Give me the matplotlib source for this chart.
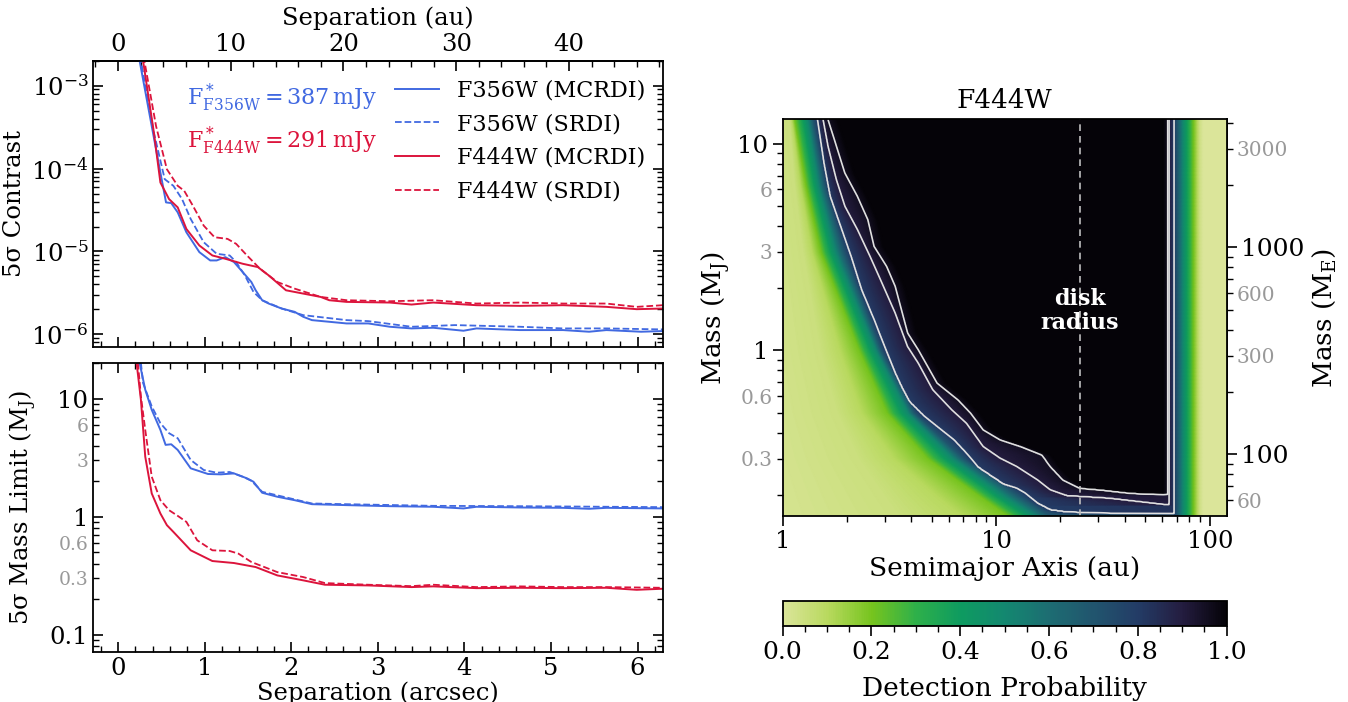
import numpy as np
import matplotlib
matplotlib.use("Agg")
import matplotlib.pyplot as plt
from matplotlib.colors import LinearSegmentedColormap
from matplotlib.ticker import FixedLocator, FuncFormatter, MultipleLocator

plt.rcParams['font.family'] = 'DejaVu Serif'
plt.rcParams['mathtext.fontset'] = 'dejavuserif'
plt.rcParams['axes.linewidth'] = 1.3

BLUE = '#4169e1'
RED = '#dc143c'
GREY = '#999999'
AU_PER_ARCSEC = 7.68
MJ_TO_ME = 317.8

# ---------------- contrast curves (arcsec, log10 contrast) ----------------
sep_356_mc = [0.20, 0.25, 0.39, 0.49, 0.555, 0.615, 0.69, 0.79, 0.94, 1.065, 1.14, 1.24, 1.34, 1.44,
              1.54, 1.59, 1.665, 1.74, 1.89, 2.04, 2.14, 2.24, 2.44, 2.64, 2.89, 3.14, 3.39, 3.64,
              3.99, 4.14, 4.64, 5.14, 5.44, 5.64, 6.04, 6.29]
con_356_mc = [-2.3, -2.70, -3.488, -4.048, -4.408, -4.416, -4.528, -4.768, -5.008, -5.108, -5.108,
              -5.068, -5.128, -5.248, -5.368, -5.468, -5.588, -5.628, -5.688, -5.728, -5.788, -5.828,
              -5.848, -5.868, -5.868, -5.908, -5.928, -5.92, -5.956, -5.928, -5.948, -5.948, -5.968,
              -5.948, -5.968, -5.96]

sep_356_sr = [0.22, 0.265, 0.415, 0.54, 0.64, 0.74, 0.84, 0.99, 1.14, 1.29, 1.365, 1.465, 1.565,
              1.665, 1.89, 2.14, 2.64, 2.89, 3.39, 3.89, 4.64, 5.14, 5.64, 6.29]
con_356_sr = [-2.3, -2.70, -3.568, -4.128, -4.208, -4.368, -4.608, -4.888, -5.028, -5.048, -5.128,
              -5.288, -5.488, -5.588, -5.688, -5.768, -5.828, -5.84, -5.908, -5.888, -5.908, -5.928,
              -5.928, -5.94]

sep_444_mc = [0.25, 0.29, 0.415, 0.49, 0.59, 0.69, 0.79, 0.94, 1.09, 1.24, 1.44, 1.615, 1.74, 1.94,
              2.14, 2.34, 2.44, 2.64, 3.14, 3.39, 3.64, 4.14, 4.64, 5.14, 5.64, 5.99, 6.29]
con_444_mc = [-2.3, -2.70, -3.568, -4.168, -4.368, -4.468, -4.728, -4.928, -5.048, -5.088, -5.148,
              -5.188, -5.288, -5.468, -5.508, -5.548, -5.588, -5.608, -5.616, -5.64, -5.616, -5.648,
              -5.656, -5.648, -5.668, -5.696, -5.688]

sep_444_sr = [0.27, 0.305, 0.44, 0.565, 0.69, 0.765, 0.865, 0.99, 1.115, 1.265, 1.365, 1.49, 1.64,
              1.84, 2.04, 2.34, 2.64, 3.14, 3.64, 4.14, 4.64, 5.14, 5.64, 5.99, 6.29]
con_444_sr = [-2.3, -2.70, -3.488, -4.008, -4.208, -4.268, -4.448, -4.688, -4.828, -4.848, -4.908,
              -5.048, -5.208, -5.368, -5.448, -5.548, -5.588, -5.60, -5.588, -5.628, -5.616, -5.628,
              -5.628, -5.668, -5.648]

# ---------------- mass limit curves (arcsec, log10 MJ) ----------------
msep_356_mc = [0.25, 0.315, 0.39, 0.49, 0.55, 0.615, 0.69, 0.84, 1.04, 1.19, 1.34, 1.49, 1.565, 1.665,
               1.84, 2.04, 2.24, 2.64, 3.14, 3.64, 3.99, 4.14, 4.64, 5.14, 5.44, 5.64, 6.29]
mass_356_mc = [1.304, 1.077, 0.906, 0.736, 0.609, 0.614, 0.566, 0.410, 0.362, 0.359, 0.367, 0.325,
               0.296, 0.203, 0.169, 0.140, 0.106, 0.098, 0.089, 0.084, 0.070, 0.084, 0.078, 0.075,
               0.067, 0.075, 0.070]

msep_356_sr = [0.265, 0.29, 0.39, 0.49, 0.59, 0.69, 0.84, 0.99, 1.14, 1.29, 1.44, 1.54, 1.665, 2.24,
               2.64, 3.64, 4.64, 6.29]
mass_356_sr = [1.304, 1.133, 0.935, 0.793, 0.708, 0.665, 0.481, 0.396, 0.373, 0.379, 0.339, 0.305,
               0.211, 0.112, 0.106, 0.092, 0.089, 0.081]

msep_444_mc = [0.215, 0.265, 0.315, 0.39, 0.49, 0.565, 0.64, 0.84, 1.09, 1.34, 1.59, 1.84, 2.14, 2.39,
               2.89, 3.39, 3.64, 4.14, 4.64, 5.14, 5.64, 5.99, 6.29]
mass_444_mc = [1.304, 0.991, 0.509, 0.197, 0.027, -0.072, -0.129, -0.285, -0.376, -0.393, -0.427,
               -0.498, -0.540, -0.577, -0.583, -0.597, -0.591, -0.606, -0.603, -0.606, -0.603,
               -0.620, -0.611]

msep_444_sr = [0.23, 0.265, 0.315, 0.39, 0.49, 0.59, 0.69, 0.79, 0.915, 1.09, 1.29, 1.39, 1.54, 1.84,
               2.14, 2.39, 2.89, 3.39, 3.64, 4.14, 4.64, 5.14, 5.64, 6.29]
mass_444_sr = [1.304, 1.020, 0.736, 0.339, 0.140, 0.055, 0.007, -0.044, -0.200, -0.285, -0.291,
               -0.313, -0.384, -0.470, -0.512, -0.563, -0.577, -0.589, -0.577, -0.597, -0.591,
               -0.597, -0.597, -0.603]

# ---------------- F444W detection map (log10 au, log10 MJ) ----------------
# white contours (probability 0.8, 0.9, 0.95)
c80_loga = [0.163, 0.193, 0.222, 0.271, 0.320, 0.369, 0.428, 0.477, 0.527, 0.585, 0.664, 0.743, 0.802,
            0.861, 0.939, 1.018, 1.096, 1.136, 1.194, 1.253, 1.332, 1.528, 1.804]
c80_logm = [1.116, 0.906, 0.745, 0.600, 0.455, 0.294, 0.148, 0.019, -0.110, -0.239, -0.319, -0.384,
            -0.432, -0.497, -0.594, -0.642, -0.666, -0.690, -0.739, -0.771, -0.782, -0.787, -0.790]
c90_loga = [0.189, 0.212, 0.251, 0.291, 0.350, 0.409, 0.458, 0.527, 0.585, 0.635, 0.703, 0.792, 0.861,
            0.939, 1.018, 1.096, 1.194, 1.253, 1.332, 1.528, 1.804]
c90_logm = [1.116, 0.987, 0.826, 0.697, 0.584, 0.455, 0.342, 0.181, 0.019, -0.061, -0.190, -0.287,
            -0.352, -0.465, -0.521, -0.561, -0.626, -0.674, -0.703, -0.715, -0.747]
c95_loga = [0.212, 0.242, 0.291, 0.350, 0.399, 0.428, 0.487, 0.527, 0.585, 0.635, 0.723, 0.821, 0.880,
            0.939, 1.018, 1.116, 1.214, 1.253, 1.312, 1.391, 1.489, 1.627, 1.804]
c95_logm = [1.116, 1.019, 0.858, 0.745, 0.632, 0.503, 0.406, 0.310, 0.084, 0.003, -0.158, -0.239,
            -0.303, -0.384, -0.432, -0.465, -0.505, -0.561, -0.626, -0.666, -0.674, -0.690, -0.698]
# lower probability levels
lvl_logm = [1.116, 0.8, 0.477, 0.0, -0.3, -0.52, -0.7, -0.8]
p05_loga = [0.035, 0.06, 0.10, 0.18, 0.26, 0.36, 0.48, 0.55]
p10_loga = [0.045, 0.085, 0.14, 0.27, 0.37, 0.52, 0.72, 0.84]
p20_loga = [0.057, 0.11, 0.18, 0.36, 0.49, 0.68, 0.92, 1.06]
p50_loga = [0.12, 0.17, 0.25, 0.44, 0.59, 0.80, 1.04, 1.19]
p70_loga = [0.145, 0.20, 0.29, 0.465, 0.62, 0.85, 1.11, 1.26]
# outer cut-off in semimajor axis
edge_loga = [1.78, 1.804, 1.809, 1.833, 1.875, 1.908, 1.955, 1.97]
edge_prob = [1.0, 0.95, 0.9, 0.8, 0.5, 0.3, 0.03, 0.0]
disk_radius = 24.6

cmap_colors = ['#dbe59a', '#b8d95e', '#76c41e', '#2eb04a', '#0e9b60', '#138870', '#1d6d72',
               '#21556e', '#233c66', '#241d40', '#050308']
cmap_pos = [0.0, 0.1, 0.2, 0.3, 0.4, 0.5, 0.6, 0.7, 0.8, 0.9, 1.0]
cmap = LinearSegmentedColormap.from_list('det', list(zip(cmap_pos, cmap_colors)))


def level_pos(m, loga, logm, missing):
    if m < min(logm):
        return missing
    return np.interp(m, logm[::-1], loga[::-1])


def grey_minor(values):
    return FuncFormatter(lambda v, p: f'{v:g}' if any(np.isclose(v, values)) else '')


la = np.linspace(0, np.log10(120), 700)
lm = np.linspace(np.log10(0.159), np.log10(13.1), 500)
prob = np.zeros((len(lm), len(la)))
edge = np.interp(la, edge_loga, edge_prob)
lv = [0.0, 0.05, 0.1, 0.2, 0.5, 0.7, 0.8, 0.9, 0.95, 1.0]
for j, m in enumerate(lm):
    low = [np.interp(m, lvl_logm[::-1], arr[::-1]) for arr in (p05_loga, p10_loga, p20_loga, p50_loga, p70_loga)]
    c80 = level_pos(m, c80_loga, c80_logm, 3.0)
    c90 = level_pos(m, c90_loga, c90_logm, 3.01)
    c95 = level_pos(m, c95_loga, c95_logm, 3.02)
    xs = np.maximum.accumulate(np.array([-0.3] + low + [c80, c90, c95, c95 + 0.05]))
    xs = xs + np.arange(len(xs)) * 1e-6
    prob[j] = np.minimum(np.interp(la, xs, lv), edge)

fig = plt.figure(figsize=(13.48, 7.02), dpi=100)

# ---------------- top left: contrast ----------------
ax1 = fig.add_axes([0.0692, 0.5061, 0.4224, 0.4074])
ax1.plot(sep_356_mc, 10**np.array(con_356_mc), color=BLUE, lw=1.4, label='F356W (MCRDI)')
ax1.plot(sep_356_sr, 10**np.array(con_356_sr), color=BLUE, lw=1.3, ls='--', label='F356W (SRDI)')
ax1.plot(sep_444_mc, 10**np.array(con_444_mc), color=RED, lw=1.4, label='F444W (MCRDI)')
ax1.plot(sep_444_sr, 10**np.array(con_444_sr), color=RED, lw=1.3, ls='--', label='F444W (SRDI)')
ax1.set_yscale('log')
ax1.set_ylim(7.1e-7, 2e-3)
ax1.set_xlim(-0.285, 6.29)
ax1.xaxis.set_major_locator(MultipleLocator(1))
ax1.xaxis.set_minor_locator(MultipleLocator(0.2))
ax1.tick_params(which='both', direction='in', right=True, top=False, labelbottom=False,
                labelsize=17.5)
ax1.tick_params(which='major', length=7, width=1.2)
ax1.tick_params(which='minor', length=4, width=1.0)
ax1.set_ylabel('5σ Contrast', fontsize=17.5)
ax1.text(0.165, 0.87, r'$\mathrm{F^*_{F356W} = 387\,mJy}$', color=BLUE, fontsize=16,
         transform=ax1.transAxes, va='center')
ax1.text(0.165, 0.722, r'$\mathrm{F^*_{F444W} = 291\,mJy}$', color=RED, fontsize=16,
         transform=ax1.transAxes, va='center')
ax1.legend(loc='upper right', bbox_to_anchor=(0.985, 0.965), borderaxespad=0, frameon=False,
           fontsize=16, handlelength=2.0, handletextpad=0.8, labelspacing=0.52)
top = ax1.secondary_xaxis('top', functions=(lambda x: x * AU_PER_ARCSEC, lambda x: x / AU_PER_ARCSEC))
top.xaxis.set_major_locator(MultipleLocator(10))
top.xaxis.set_minor_locator(MultipleLocator(2))
top.tick_params(which='both', direction='in', labelsize=17.5)
top.tick_params(which='major', length=7, width=1.2)
top.tick_params(which='minor', length=4, width=1.0)
top.set_xlabel('Separation (au)', fontsize=17.5, labelpad=6)

# ---------------- bottom left: mass limit ----------------
ax2 = fig.add_axes([0.0692, 0.0708, 0.4224, 0.4121])
ax2.plot(msep_356_mc, 10**np.array(mass_356_mc), color=BLUE, lw=1.4)
ax2.plot(msep_356_sr, 10**np.array(mass_356_sr), color=BLUE, lw=1.3, ls='--')
ax2.plot(msep_444_mc, 10**np.array(mass_444_mc), color=RED, lw=1.4)
ax2.plot(msep_444_sr, 10**np.array(mass_444_sr), color=RED, lw=1.3, ls='--')
ax2.set_yscale('log')
ax2.set_ylim(0.0708, 20.1)
ax2.set_xlim(-0.285, 6.29)
ax2.xaxis.set_major_locator(MultipleLocator(1))
ax2.xaxis.set_minor_locator(MultipleLocator(0.2))
grey_mj = [0.3, 0.6, 3, 6]
minor_mj = [0.08, 0.09, 0.2, 0.3, 0.4, 0.5, 0.6, 0.7, 0.8, 0.9, 2, 3, 4, 5, 6, 7, 8, 9, 20]
ax2.yaxis.set_major_locator(FixedLocator([0.1, 1, 10]))
ax2.yaxis.set_major_formatter(FuncFormatter(lambda v, p: f'{v:g}'))
ax2.yaxis.set_minor_locator(FixedLocator(minor_mj))
ax2.yaxis.set_minor_formatter(grey_minor(grey_mj))
ax2.tick_params(which='both', direction='in', right=True, top=True)
ax2.tick_params(which='major', length=7, width=1.2, labelsize=17.5)
ax2.tick_params(which='minor', length=4, width=1.0, labelsize=13.5, labelcolor=GREY)
ax2.set_xlabel('Separation (arcsec)', fontsize=17.5, labelpad=1)
ax2.set_ylabel(r'5σ Mass Limit (M$_\mathrm{J}$)', fontsize=17.5, labelpad=8)

# ---------------- right: detection map ----------------
ax3 = fig.add_axes([0.5806, 0.2654, 0.3294, 0.5647])
A, M = np.meshgrid(10**la, 10**lm)
mesh = ax3.pcolormesh(A, M, prob, cmap=cmap, vmin=0, vmax=1, shading='gouraud', rasterized=True)
ax3.contour(A, M, prob, levels=[0.8, 0.9, 0.95], colors='0.88', linewidths=1.2)
ax3.axvline(disk_radius, color='0.75', ls=(0, (4, 3)), lw=1.2)
ax3.text(disk_radius, 1.55, 'disk\nradius', color='white', fontsize=16, fontweight='bold',
         ha='center', va='center', linespacing=1.12)
ax3.set_xscale('log')
ax3.set_yscale('log')
ax3.set_xlim(1, 120)
ax3.set_ylim(0.159, 13.1)
ax3.xaxis.set_major_locator(FixedLocator([1, 10, 100]))
ax3.xaxis.set_major_formatter(FuncFormatter(lambda v, p: f'{v:g}'))
ax3.yaxis.set_major_locator(FixedLocator([1, 10]))
ax3.yaxis.set_major_formatter(FuncFormatter(lambda v, p: f'{v:g}'))
ax3.yaxis.set_minor_locator(FixedLocator(minor_mj))
ax3.yaxis.set_minor_formatter(grey_minor(grey_mj))
ax3.tick_params(which='both', direction='out')
ax3.tick_params(which='major', length=7, width=1.2, labelsize=17.5)
ax3.tick_params(which='minor', length=4, width=1.0, labelsize=14.5, labelcolor=GREY)
ax3.tick_params(axis='x', which='minor', labelbottom=False)
ax3.set_xlabel('Semimajor Axis (au)', fontsize=19, labelpad=2)
ax3.set_ylabel(r'Mass (M$_\mathrm{J}$)', fontsize=19)
ax3.set_title('F444W', fontsize=19, pad=8)

grey_me = [60, 300, 600, 3000]
minor_me = [60, 70, 80, 90, 200, 300, 400, 500, 600, 700, 800, 900, 2000, 3000, 4000]
rax = ax3.secondary_yaxis('right', functions=(lambda m: m * MJ_TO_ME, lambda e: e / MJ_TO_ME))
rax.yaxis.set_major_locator(FixedLocator([100, 1000]))
rax.yaxis.set_major_formatter(FuncFormatter(lambda v, p: f'{v:g}'))
rax.yaxis.set_minor_locator(FixedLocator(minor_me))
rax.yaxis.set_minor_formatter(grey_minor(grey_me))
rax.tick_params(which='both', direction='out')
rax.tick_params(which='major', length=7, width=1.2, labelsize=18)
rax.tick_params(which='minor', length=4, width=1.0, labelsize=14.5, labelcolor=GREY)
rax.set_ylabel(r'Mass (M$_\mathrm{E}$)', fontsize=19)

cax = fig.add_axes([0.5806, 0.1083, 0.3294, 0.0356])
cb = fig.colorbar(mesh, cax=cax, orientation='horizontal')
cb.set_ticks([0, 0.2, 0.4, 0.6, 0.8, 1.0])
cb.ax.xaxis.set_minor_locator(MultipleLocator(0.05))
cb.ax.tick_params(which='major', length=7, width=1.2, labelsize=18)
cb.ax.tick_params(which='minor', length=4, width=1.0)
cb.outline.set_linewidth(1.3)
cb.set_label('Detection Probability', fontsize=19, labelpad=9)

fig.savefig('out.png', dpi=100)
